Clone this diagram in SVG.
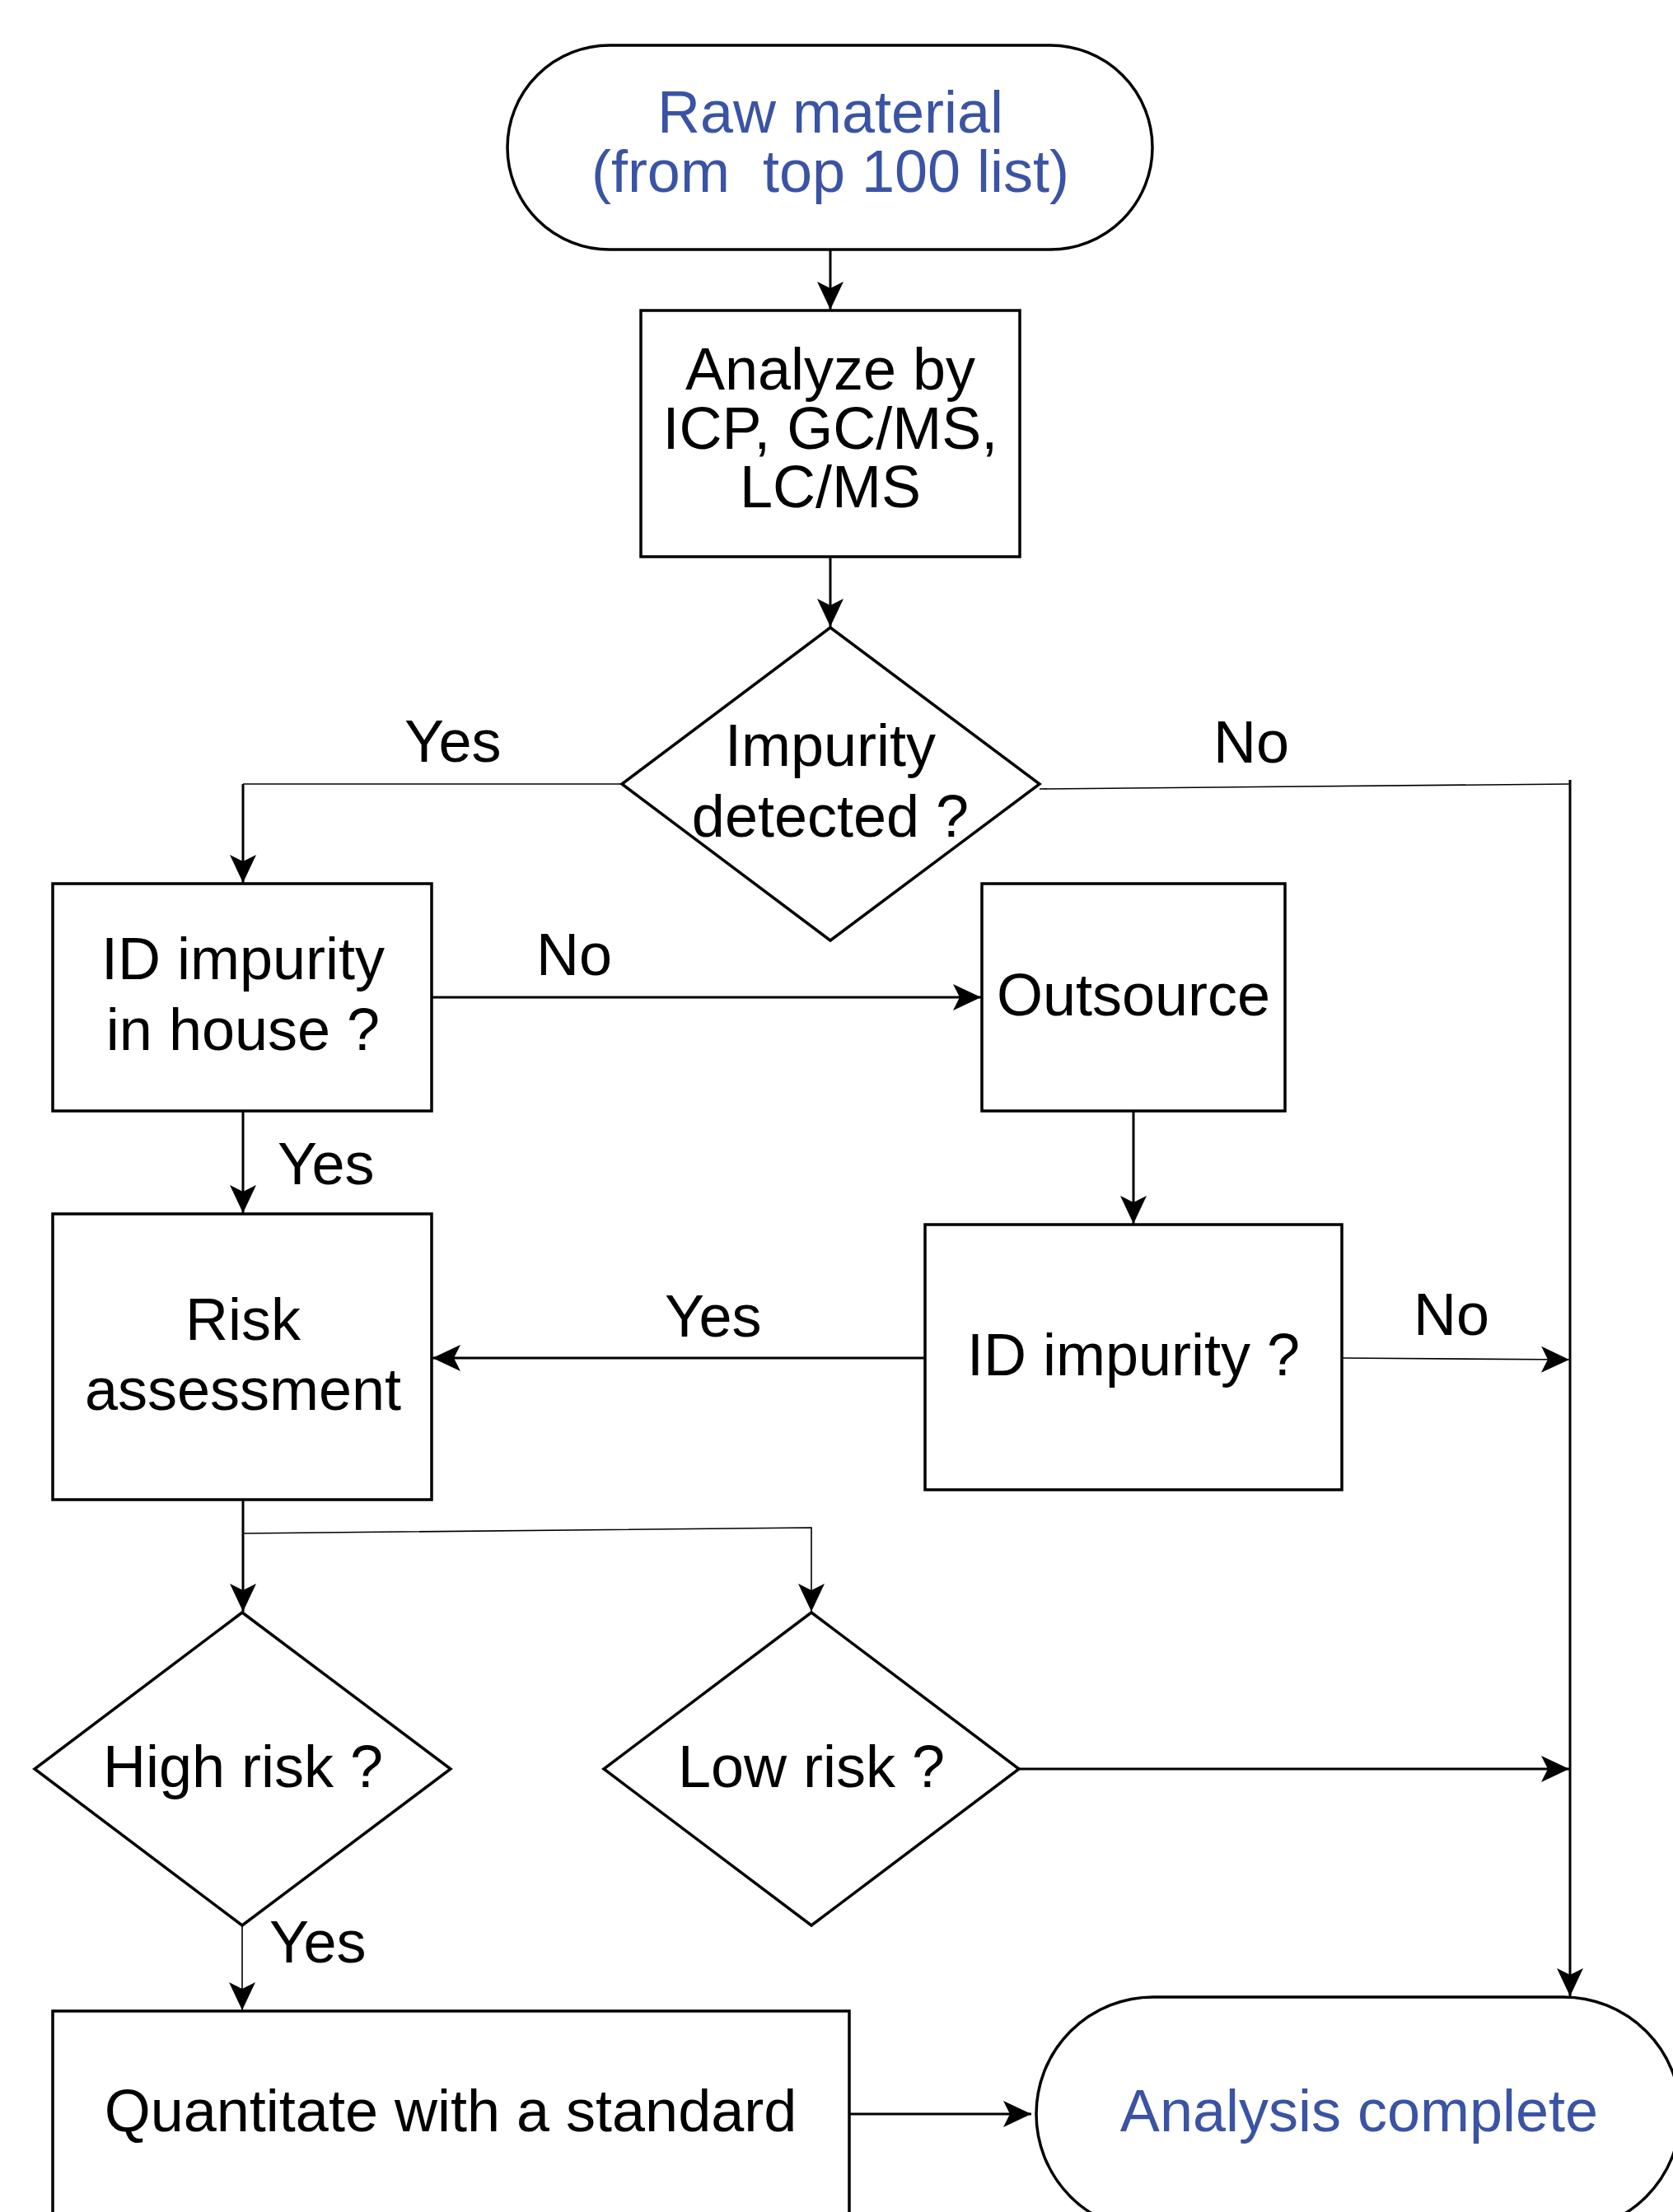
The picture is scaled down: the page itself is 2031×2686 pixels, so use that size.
<svg xmlns="http://www.w3.org/2000/svg" width="2031" height="2686" viewBox="0 0 2031 2686">
<style>
.node{fill:#fff;stroke:#000;stroke-width:3.5}
.t{font-family:"Liberation Sans",Arial,sans-serif;font-size:72px;fill:#000}
.m{text-anchor:middle}
.b{fill:#3A53A4}
.c{fill:none;stroke:#000;stroke-width:3}
.thin{stroke-width:1.6}
</style>
<defs>
<marker id="ah" markerUnits="userSpaceOnUse" markerWidth="38" markerHeight="38" viewBox="-36 -19 38 38" refX="0" refY="0" orient="auto">
<path d="M0,0 L-34,-16 L-26,0 L-34,16 Z" fill="#000"/>
</marker>
</defs>
<rect width="2031" height="2686" fill="#fff"/>
<g id="connectors">
<path id="e1" class="c" d="M1008,303 V376" marker-end="url(#ah)"/>
<path id="e2" class="c" d="M1008,676 V761" marker-end="url(#ah)"/>
<path id="e3" class="c thin" d="M755,952 H295"/>
<path id="e3b" class="c" d="M295,952 V1072" marker-end="url(#ah)"/>
<path id="e4" class="c thin" d="M1262,958 L1906,952"/>
<path id="e4b" class="c" d="M1906,947 V2424" marker-end="url(#ah)"/>
<path id="e5" class="c" d="M524,1211 H1191" marker-end="url(#ah)"/>
<path id="e6" class="c" d="M295,1349 V1473" marker-end="url(#ah)"/>
<path id="e7" class="c" d="M1376,1349 V1486" marker-end="url(#ah)"/>
<path id="e8" class="c" d="M1122,1649 H525" marker-end="url(#ah)"/>
<path id="e9" class="c thin" d="M1629,1649 L1905,1651" marker-end="url(#ah)"/>
<path id="e10" class="c" d="M295,1821 V1957" marker-end="url(#ah)"/>
<path id="e11" class="c thin" d="M295,1862 L985,1855 V1957" marker-end="url(#ah)"/>
<path id="e12" class="c" d="M1237,2148 H1905" marker-end="url(#ah)"/>
<path id="e13" class="c thin" d="M294,2338 V2441" marker-end="url(#ah)"/>
<path id="e14" class="c" d="M1031,2567 H1252" marker-end="url(#ah)"/>
</g>
<g id="raw">
<rect class="node" x="616" y="55" width="783" height="248" rx="124" ry="124"/>
<text class="t m b" x="1008" y="161">Raw material</text>
<text class="t m b" x="1008" y="233" xml:space="preserve">(from  top 100 list)</text>
</g>
<g id="analyze">
<rect class="node" x="778" y="377" width="460" height="299"/>
<text class="t m" x="1008" y="473">Analyze by</text>
<text class="t m" x="1008" y="545">ICP, GC/MS,</text>
<text class="t m" x="1008" y="616">LC/MS</text>
</g>
<g id="detected">
<polygon class="node" points="1008,762 1262,952 1008,1142 755,952"/>
<text class="t m" x="1008" y="930">Impurity</text>
<text class="t m" x="1008" y="1016">detected ?</text>
</g>
<g id="inhouse">
<rect class="node" x="64" y="1073" width="460" height="276"/>
<text class="t m" x="295" y="1189">ID impurity</text>
<text class="t m" x="295" y="1275">in house ?</text>
</g>
<g id="outsource">
<rect class="node" x="1192" y="1073" width="368" height="276"/>
<text class="t m" x="1376" y="1233">Outsource</text>
</g>
<g id="idimpurity">
<rect class="node" x="1123" y="1487" width="506" height="322"/>
<text class="t m" x="1376" y="1670">ID impurity ?</text>
</g>
<g id="risk">
<rect class="node" x="64" y="1474" width="460" height="347"/>
<text class="t m" x="295" y="1627">Risk</text>
<text class="t m" x="295" y="1712">assessment</text>
</g>
<g id="high">
<polygon class="node" points="294,1958 547,2148 294,2338 42,2148"/>
<text class="t m" x="295" y="2170">High risk ?</text>
</g>
<g id="low">
<polygon class="node" points="985,1958 1237,2148 985,2338 733,2148"/>
<text class="t m" x="985" y="2170">Low risk ?</text>
</g>
<g id="quant">
<rect class="node" x="64" y="2442" width="967" height="300"/>
<text class="t m" x="547" y="2588">Quantitate with a standard</text>
</g>
<g id="complete">
<rect class="node" x="1258" y="2425" width="782" height="284" rx="142" ry="142"/>
<text class="t m b" x="1650" y="2588">Analysis complete</text>
</g>
<g id="labels">
<text class="t" x="491" y="925">Yes</text>
<text class="t" x="1473" y="926">No</text>
<text class="t" x="651" y="1184">No</text>
<text class="t" x="337" y="1438">Yes</text>
<text class="t" x="807" y="1623">Yes</text>
<text class="t" x="1716" y="1621">No</text>
<text class="t" x="327" y="2383">Yes</text>
</g>
</svg>
